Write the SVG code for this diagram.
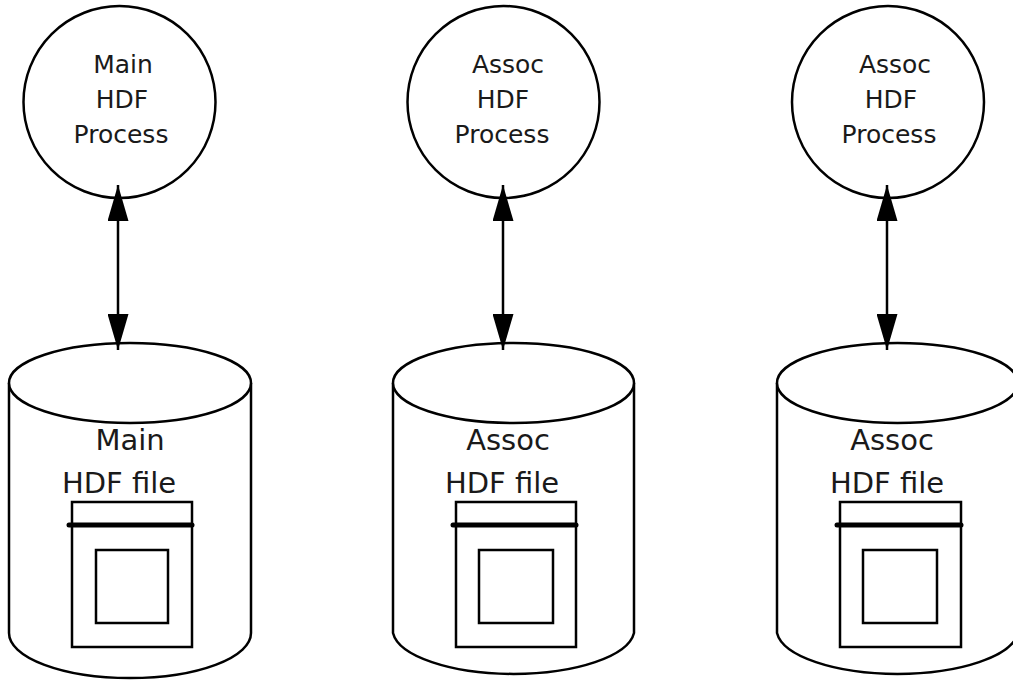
<svg xmlns="http://www.w3.org/2000/svg" width="1013" height="680" viewBox="0 0 1013 680">
<style>
.s{fill:none;stroke:#000;stroke-width:2.5}
.w{fill:#fff;stroke:#000;stroke-width:2.5}
.t{font-family:"DejaVu Sans",sans-serif;fill:#1a1a1a;text-anchor:middle}
.ct{font-size:25px}
.dt{font-size:29px}
.bar{stroke:#000;stroke-width:5;stroke-linecap:round}
</style>
<defs>
<marker id="ah" markerUnits="userSpaceOnUse" markerWidth="36" markerHeight="21" refX="36" refY="10.5" orient="auto-start-reverse" viewBox="0 0 36 21">
<path d="M0,0 L36,10.5 L0,21 Z" fill="#000"/>
</marker>
</defs>
<rect width="1013" height="680" fill="#fff"/>
<g id="proc1">
<circle class="w" cx="119.5" cy="102" r="96"/>
<text class="t ct" x="123" y="73">Main</text>
<text class="t ct" x="122" y="108">HDF</text>
<text class="t ct" x="121" y="143">Process</text>
</g>
<g id="proc2">
<circle class="w" cx="503.5" cy="102" r="96"/>
<text class="t ct" x="508" y="73">Assoc</text>
<text class="t ct" x="503" y="108">HDF</text>
<text class="t ct" x="502" y="143">Process</text>
</g>
<g id="proc3">
<circle class="w" cx="888" cy="102" r="96"/>
<text class="t ct" x="895" y="73">Assoc</text>
<text class="t ct" x="891" y="108">HDF</text>
<text class="t ct" x="889" y="143">Process</text>
</g>
<g id="file1">
<path class="w" d="M9,383 L9,633 A121,45 0 0 0 251,633 L251,383"/>
<ellipse class="w" cx="130" cy="383" rx="121" ry="40"/>
<text class="t dt" x="130" y="450">Main</text>
<text class="t dt" x="119" y="493">HDF file</text>
<rect class="s" x="72" y="502" width="120" height="145"/>
<line class="bar" x1="69" y1="525" x2="192" y2="525"/>
<rect class="s" x="96" y="550" width="72" height="73"/>
</g>
<g id="file2">
<path class="w" d="M393,383 L393,633 A121,45 0 0 0 634,633 L634,383"/>
<ellipse class="w" cx="513.5" cy="383" rx="120.5" ry="40"/>
<text class="t dt" x="508" y="450">Assoc</text>
<text class="t dt" x="502" y="493">HDF file</text>
<rect class="s" x="456" y="502" width="120" height="145"/>
<line class="bar" x1="453" y1="525" x2="576" y2="525"/>
<rect class="s" x="479" y="550" width="74" height="73"/>
</g>
<g id="file3">
<path class="w" d="M777,383 L777,633 A121,45 0 0 0 1018,633 L1018,383"/>
<ellipse class="w" cx="897.5" cy="383" rx="120.5" ry="40"/>
<text class="t dt" x="892" y="450">Assoc</text>
<text class="t dt" x="887" y="493">HDF file</text>
<rect class="s" x="840" y="502" width="121" height="145"/>
<line class="bar" x1="837" y1="525" x2="961" y2="525"/>
<rect class="s" x="863" y="550" width="74" height="73"/>
</g>
<g id="connectors">
<line class="s" x1="118" y1="185" x2="118" y2="350" marker-start="url(#ah)" marker-end="url(#ah)"/>
<line class="s" x1="503" y1="185" x2="503" y2="350" marker-start="url(#ah)" marker-end="url(#ah)"/>
<line class="s" x1="887" y1="185" x2="887" y2="350" marker-start="url(#ah)" marker-end="url(#ah)"/>
</g>
</svg>
